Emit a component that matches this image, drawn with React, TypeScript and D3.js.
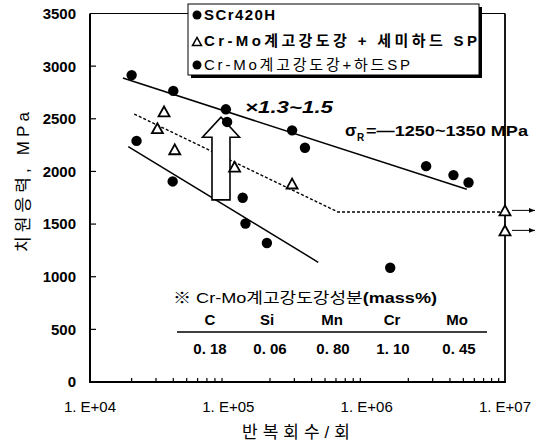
import React from 'react';
import * as d3 from 'd3';

const W = 540;
const H = 445;
const PLOT = { left: 90, right: 505, top: 13.5, bottom: 382 };

const yTicks = [0, 500, 1000, 1500, 2000, 2500, 3000, 3500];
const xTicks = [1e4, 1e5, 1e6, 1e7];
const xTickLabels = ['1. E+04', '1. E+05', '1. E+06', '1. E+07'];

// SCr420H (filled circles, lower group)
const scrN = [2.17e4, 3.96e4, 1.27e5, 1.33e5, 1.9e5, 1.48e6];
const scrS = [2290, 1905, 1750, 1505, 1320, 1085];

// Cr-Mo high strength steel + semi-hard SP (open triangles)
const semiN = [3.07e4, 3.43e4, 4.1e4, 1.11e5, 2.89e5, 1e7, 1e7];
const semiS = [2410, 2570, 2210, 2045, 1885, 1630, 1440];
const semiRunout = [false, false, false, false, false, true, true];

// Cr-Mo high strength steel + hard SP (filled circles, upper group)
const hardN = [2e4, 4e4, 9.6e4, 9.8e4, 2.89e5, 3.58e5, 2.69e6, 4.24e6, 5.45e6];
const hardS = [2915, 2765, 2590, 2470, 2390, 2225, 2050, 1965, 1895];

// trend lines
const hardLineN = [1.73e4, 5.29e6];
const hardLineS = [2887, 1830];
const scrLineN = [1.89e4, 4.47e5];
const scrLineS = [2235, 1137];
const semiLineN = [2.09e4, 6.2e5, 1e7];
const semiLineS = [2545, 1615, 1615];

// improvement arrow
const arrowN = 8.85e4;
const arrowFromS = 1730;
const arrowToS = 2515;

// composition table
const elements = ['C', 'Si', 'Mn', 'Cr', 'Mo'];
const contents = ['0. 18', '0. 06', '0. 80', '1. 10', '0. 45'];
const elemX = [210, 267, 332, 392, 457];
const valX = [210, 270, 333, 393, 459];

const legendLabels = [
  'SCr420H',
  'Cr-Mo계고강도강 + 세미하드 SP',
  'Cr-Mo계고강도강+하드SP',
];

const FONT = "'Liberation Sans', Arial, 'Noto Sans CJK KR', sans-serif";

const x = d3.scaleLog().domain([1e4, 1e7]).range([PLOT.left, PLOT.right]);
const y = d3.scaleLinear().domain([0, 3500]).range([PLOT.bottom, PLOT.top]);

const line = d3
  .line<[number, number]>()
  .x((d) => x(d[0]))
  .y((d) => y(d[1]));

const zip = (a: number[], b: number[]): [number, number][] => a.map((v, i) => [v, b[i]]);

function tri(cx: number, cy: number, w: number) {
  const h = w * 0.9;
  return `M${cx},${cy - h / 2}L${cx + w / 2},${cy + h / 2}L${cx - w / 2},${cy + h / 2}Z`;
}

export default function App() {
  const minorTicks: number[] = [];
  for (let dec = 1e4; dec < 1e7; dec *= 10) {
    for (let k = 2; k <= 9; k++) minorTicks.push(dec * k);
  }

  const ax = x(arrowN);
  const aBottom = y(arrowFromS);
  const aTop = y(arrowToS);
  const headBase = aTop + 20;
  const arrowPath = `M${ax - 9},${aBottom}L${ax - 9},${headBase}L${ax - 18.5},${headBase}L${ax},${aTop}L${ax + 18.5},${headBase}L${ax + 9},${headBase}L${ax + 9},${aBottom}Z`;

  return (
    <svg
      width={W}
      height={H}
      style={{ position: 'absolute', left: 0, top: 0, background: '#fff' }}
      fontFamily={FONT}
    >
      <defs>
        <marker id="ah" viewBox="0 0 10 10" refX="10" refY="5" markerWidth="6" markerHeight="6" orient="auto">
          <path d="M0,1L10,5L0,9Z" fill="#000" />
        </marker>
      </defs>
      <rect x={0} y={0} width={W} height={H} fill="#fff" />

      {/* frame */}
      <line x1={PLOT.left} x2={PLOT.right} y1={PLOT.top} y2={PLOT.top} stroke="#000" strokeWidth={1} />
      <line x1={PLOT.right} x2={PLOT.right} y1={PLOT.top} y2={PLOT.bottom} stroke="#000" strokeWidth={1.8} />
      <line x1={PLOT.left} x2={PLOT.left} y1={PLOT.top} y2={PLOT.bottom + 1} stroke="#000" strokeWidth={2} />
      <line x1={PLOT.left - 1} x2={PLOT.right + 1} y1={PLOT.bottom} y2={PLOT.bottom} stroke="#000" strokeWidth={2} />

      {/* y ticks */}
      {yTicks.map((t) => (
        <g key={t}>
          {t > 0 && t < 3500 && (
            <line x1={PLOT.left} x2={PLOT.left + 6} y1={y(t)} y2={y(t)} stroke="#000" strokeWidth={1.2} />
          )}
          <text x={76} y={y(t)} dy="0.36em" textAnchor="end" fontSize={15} fontWeight="bold">
            {t}
          </text>
        </g>
      ))}

      {/* x ticks */}
      {minorTicks.map((t) => (
        <line key={t} x1={x(t)} x2={x(t)} y1={PLOT.bottom} y2={PLOT.bottom - 4} stroke="#000" strokeWidth={1.2} />
      ))}
      {xTicks.map((t, i) => (
        <text key={t} x={x(t)} y={407} dy="0.36em" textAnchor="middle" fontSize={15}>
          {xTickLabels[i]}
        </text>
      ))}

      {/* axis titles */}
      <text
        transform="translate(29,182) rotate(-90)"
        textAnchor="middle"
        fontSize={17}
        textLength={140}
        lengthAdjust="spacing"
      >
        치원응력, MPa
      </text>
      <text x={296} y={438} textAnchor="middle" fontSize={17} textLength={108} lengthAdjust="spacing">
        반복회수/회
      </text>

      {/* trend lines */}
      <path d={line(zip(hardLineN, hardLineS)) || ''} fill="none" stroke="#000" strokeWidth={1.5} />
      <path d={line(zip(scrLineN, scrLineS)) || ''} fill="none" stroke="#000" strokeWidth={1.5} />
      <path
        d={line(zip(semiLineN, semiLineS)) || ''}
        fill="none"
        stroke="#000"
        strokeWidth={1.4}
        strokeDasharray="3,2"
      />

      {/* arrow */}
      <path d={arrowPath} fill="#fff" stroke="#000" strokeWidth={1.6} />

      {/* runout arrows */}
      {semiN.map((n, i) =>
        semiRunout[i] ? (
          <line
            key={'r' + i}
            x1={x(n) + 7}
            x2={x(n) + 30}
            y1={y(semiS[i])}
            y2={y(semiS[i])}
            stroke="#000"
            strokeWidth={1}
            markerEnd="url(#ah)"
          />
        ) : null
      )}

      {/* points */}
      {scrN.map((n, i) => (
        <circle key={'s' + i} cx={x(n)} cy={y(scrS[i])} r={5.2} fill="#000" />
      ))}
      {hardN.map((n, i) => (
        <circle key={'h' + i} cx={x(n)} cy={y(hardS[i])} r={5.2} fill="#000" />
      ))}
      {semiN.map((n, i) => (
        <path key={'t' + i} d={tri(x(n), y(semiS[i]), 11)} fill="#fff" stroke="#000" strokeWidth={1.8} />
      ))}

      {/* annotations */}
      <text x={245} y={113} fontSize={17} fontWeight="bold" fontStyle="italic" textLength={88} lengthAdjust="spacingAndGlyphs">
        ×1.3~1.5
      </text>
      <text x={345} y={136} fontSize={17} fontWeight="bold">
        σ
      </text>
      <text x={357} y={141} fontSize={10} fontWeight="bold">
        R
      </text>
      <text x={366} y={136} fontSize={15} fontWeight="bold" textLength={162} lengthAdjust="spacingAndGlyphs">
        =—1250~1350 MPa
      </text>

      {/* composition table */}
      <text x={173} y={303} fontSize={15} textLength={264} lengthAdjust="spacingAndGlyphs">
        ※ Cr-Mo계고강도강성분<tspan fontWeight="bold">(mass%)</tspan>
      </text>
      {elements.map((e, i) => (
        <text key={e} x={elemX[i]} y={320} dy="0.36em" textAnchor="middle" fontSize={15} fontWeight="bold">
          {e}
        </text>
      ))}
      <line x1={177} x2={487} y1={332} y2={332} stroke="#000" strokeWidth={1.5} />
      {contents.map((c, i) => (
        <text key={i} x={valX[i]} y={348.5} dy="0.36em" textAnchor="middle" fontSize={15} fontWeight="bold">
          {c}
        </text>
      ))}

      {/* legend */}
      <rect x={191} y={7} width={291} height={71} fill="#000" />
      <rect x={188} y={4} width={291} height={71} fill="#fff" stroke="#000" strokeWidth={1} />
      <circle cx={197} cy={15} r={4.5} fill="#000" />
      <text x={204} y={15} dy="0.36em" fontSize={15} fontWeight="bold" textLength={71} lengthAdjust="spacing">
        {legendLabels[0]}
      </text>
      <path d={tri(197, 41.5, 9)} fill="#fff" stroke="#000" strokeWidth={1.5} />
      <text x={204} y={41} dy="0.36em" fontSize={15} fontWeight="bold" textLength={273} lengthAdjust="spacing">
        {legendLabels[1]}
      </text>
      <circle cx={197} cy={65} r={4.5} fill="#000" />
      <text x={204} y={65} dy="0.36em" fontSize={15} textLength={206} lengthAdjust="spacing">
        {legendLabels[2]}
      </text>
    </svg>
  );
}
